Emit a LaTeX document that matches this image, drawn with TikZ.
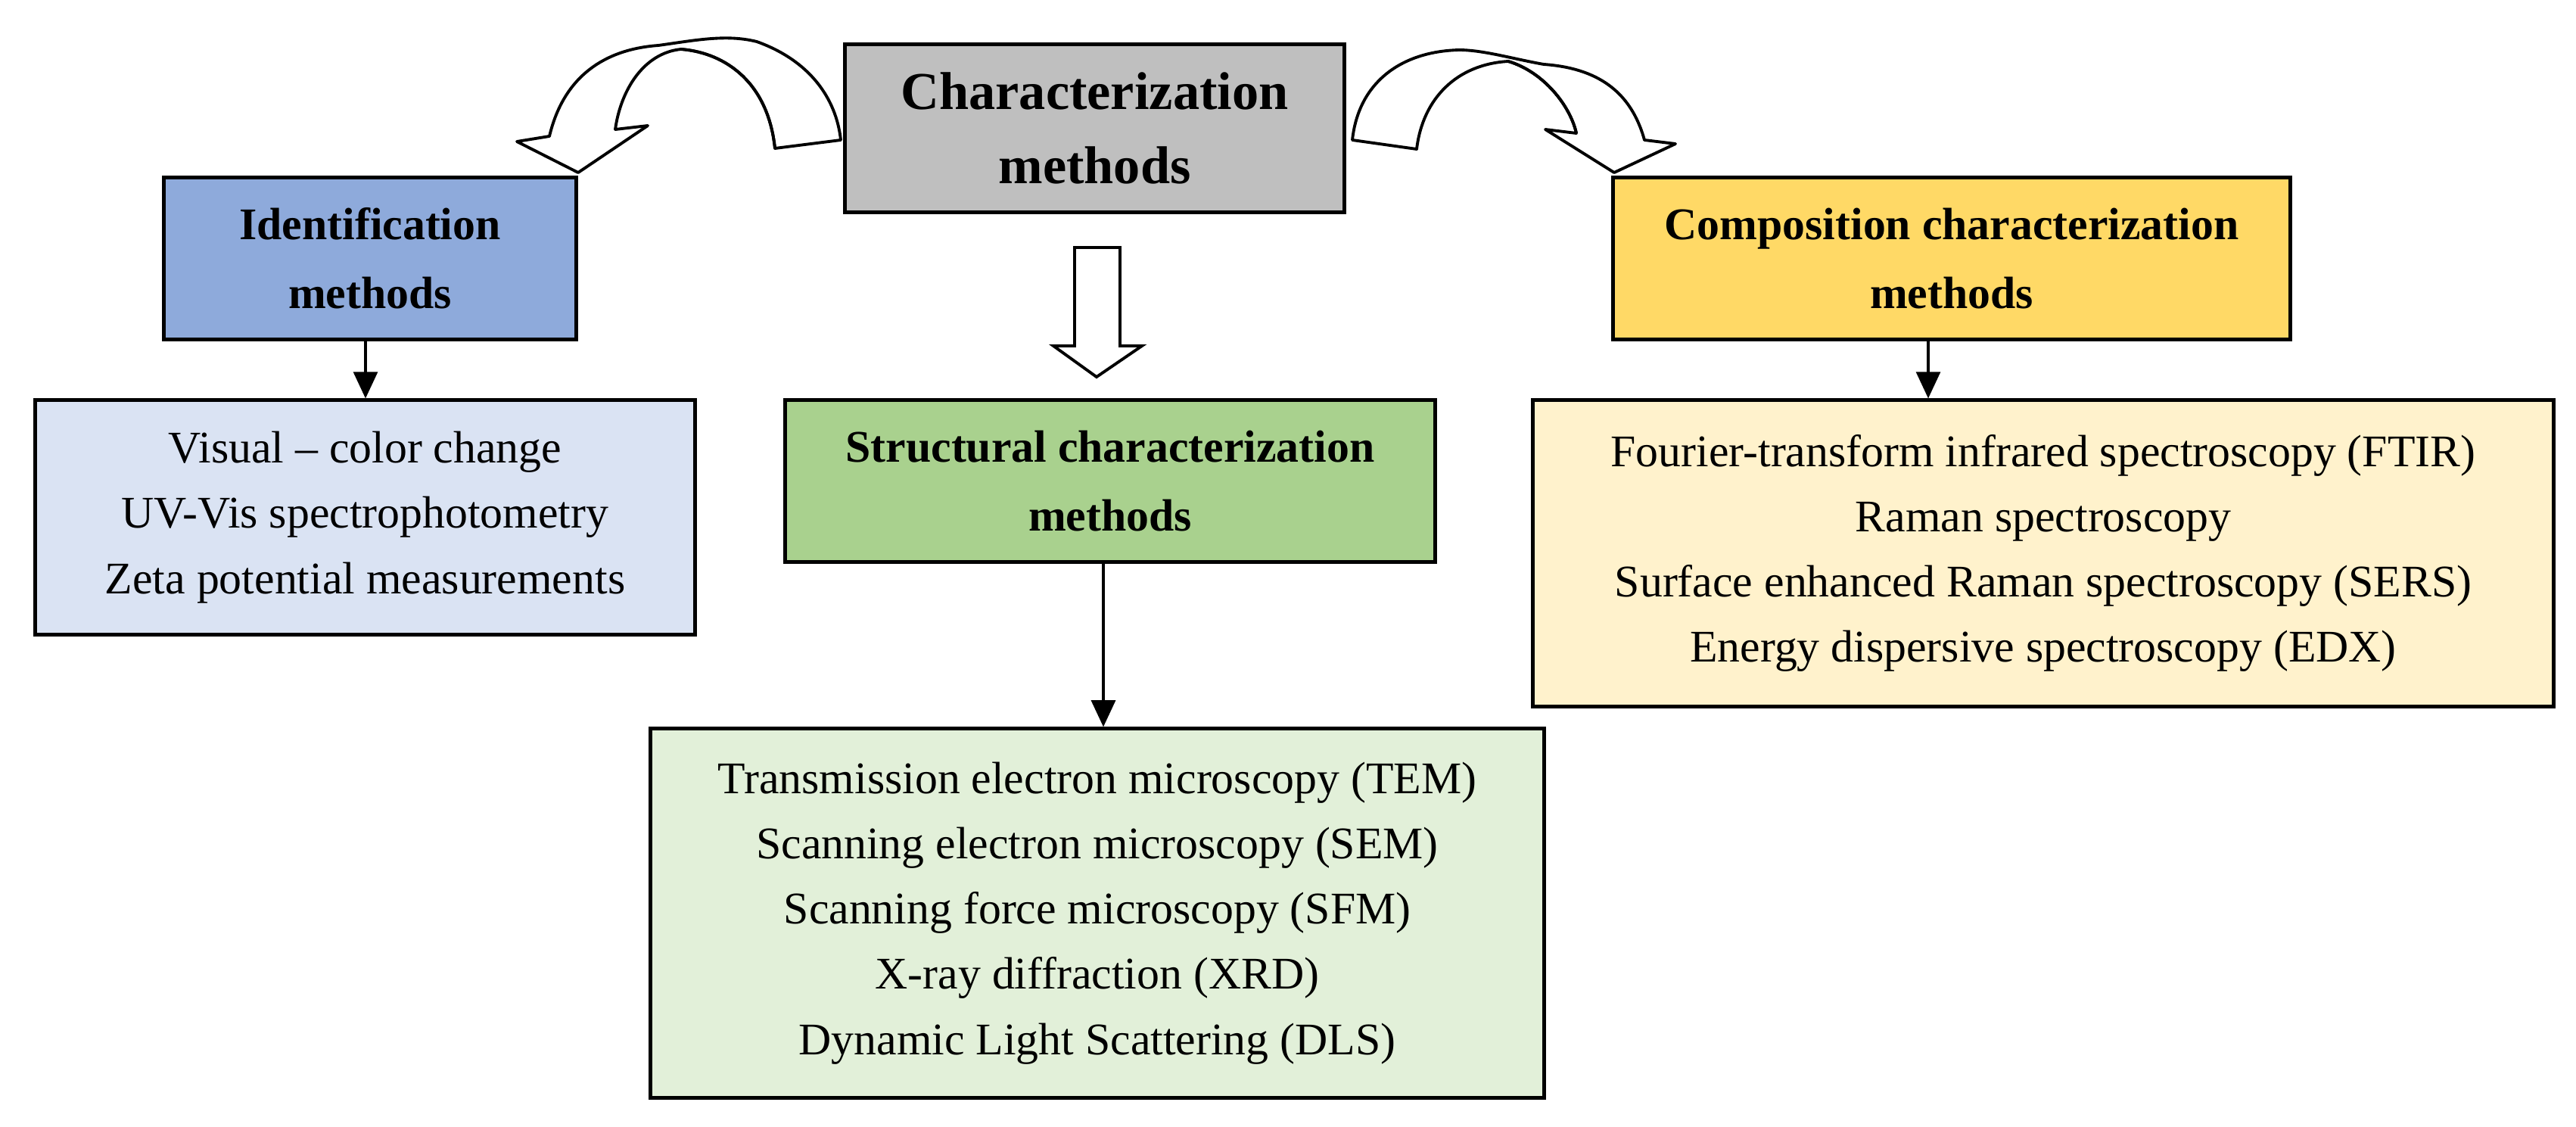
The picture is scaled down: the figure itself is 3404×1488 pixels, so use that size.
\documentclass[tikz,border=0pt]{standalone}
\usepackage{fontspec}
\setmainfont{Liberation Serif}
\usetikzlibrary{arrows.meta}
\definecolor{cgray}{HTML}{BFBFBF}
\definecolor{cblue}{HTML}{8EAADB}
\definecolor{cblueL}{HTML}{DAE3F3}
\definecolor{cgreen}{HTML}{A9D18E}
\definecolor{cgreenL}{HTML}{E2F0D9}
\definecolor{cyel}{HTML}{FFD966}
\definecolor{cyelL}{HTML}{FFF2CC}
\tikzset{
  box/.style={draw=black, line width=1.4pt, align=center, inner sep=0pt, anchor=center},
  head/.style={font=\fontsize{17}{26}\selectfont\bfseries},
  list/.style={font=\fontsize{17}{24.5}\selectfont},
  conn/.style={-{Triangle[length=10pt,width=9pt]}, line width=1.2pt},
  bigarrow/.style={draw=black, fill=white, line width=1.1pt, line join=miter}
}
\begin{document}
\begin{tikzpicture}[x=0.01cm,y=-0.01cm]
\useasboundingbox (0,0) rectangle (3404,1488);
% boxes
\node[box, fill=cgray, minimum width=6.59cm, minimum height=2.21cm, font=\fontsize{20}{28}\selectfont\bfseries] (char) at (1446.5,169.5) {Characterization\\methods};
\node[box, head, fill=cblue, minimum width=5.44cm, minimum height=2.13cm] (ident) at (489,341.5) {Identification\\methods};
\node[box, head, fill=cyel, minimum width=8.94cm, minimum height=2.13cm] (comp) at (2579,341.5) {Composition characterization\\methods};
\node[box, head, fill=cgreen, minimum width=8.58cm, minimum height=2.13cm] (struct) at (1467,635.5) {Structural characterization\\methods};
\node[box, list, fill=cblueL, minimum width=8.71cm, minimum height=3.09cm] (identL) at (482.5,683.5) {Visual -- color change\\UV-Vis spectrophotometry\\Zeta potential measurements};
\node[box, list, fill=cyelL, minimum width=13.48cm, minimum height=4.04cm] (compL) at (2700,731) {Fourier-transform infrared spectroscopy (FTIR)\\Raman spectroscopy\\Surface enhanced Raman spectroscopy (SERS)\\Energy dispersive spectroscopy (EDX)};
\node[box, list, fill=cgreenL, minimum width=11.8cm, minimum height=4.87cm] (structL) at (1450,1206.5) {Transmission electron microscopy (TEM)\\Scanning electron microscopy (SEM)\\Scanning force microscopy (SFM)\\X-ray diffraction (XRD)\\Dynamic Light Scattering (DLS)};
% connectors
\draw[conn] (ident.south -| 483,0) -- (identL.north -| 483,0);
\draw[conn] (comp.south -| 2548,0) -- (compL.north -| 2548,0);
\draw[conn] (struct.south -| 1458,0) -- (structL.north -| 1458,0);
% block arrow down
\draw[bigarrow] (1420,327) -- (1480,327) -- (1480,457) -- (1509,457) -- (1449,498) -- (1392,457) -- (1420,457) -- cycle;
% left curved arrow
\draw[bigarrow, line join=round] (1024,196) .. controls (1015,110) and (960,70) .. (900,65)
  .. controls (850,70) and (820,120) .. (813,171) -- (856,166) -- (764,228) -- (683,187) -- (726,180)
  .. controls (745,100) and (800,65) .. (870,60) .. controls (920,53) and (960,45) .. (1000,55)
  .. controls (1070,80) and (1105,130) .. (1111,185) -- cycle;
\draw[line width=1.1pt] (900,65) .. controls (960,70) and (1015,110) .. (1024,196);
% right curved arrow
\draw[bigarrow, line join=round] (1872,197) .. controls (1880,130) and (1925,85) .. (1993,81)
  .. controls (2040,95) and (2075,140) .. (2083,176) -- (2042,171) -- (2133,228) -- (2214,190) -- (2173,185)
  .. controls (2155,120) and (2110,90) .. (2040,85) .. controls (2000,78) and (1960,66) .. (1928,66)
  .. controls (1850,68) and (1795,110) .. (1787,185) -- cycle;
\draw[line width=1.1pt] (1993,81) .. controls (2040,95) and (2075,140) .. (2083,176);
\end{tikzpicture}
\end{document}
